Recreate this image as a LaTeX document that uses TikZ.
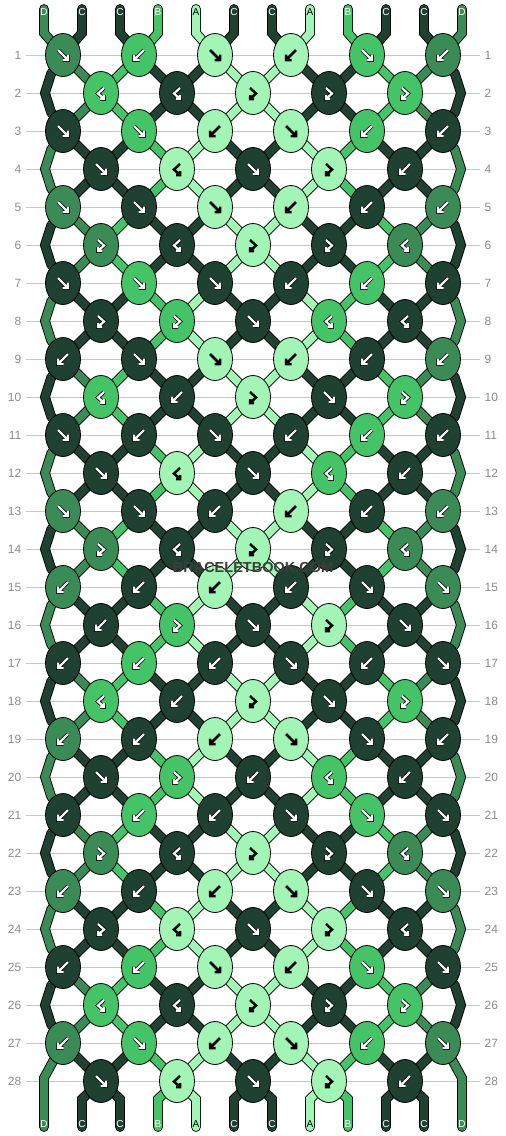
\documentclass[tikz,border=0pt]{standalone}
\usepackage{fontspec}
\setmainfont{Liberation Sans}
\usetikzlibrary{shapes.geometric}
\definecolor{cA}{HTML}{A2F5B5}
\definecolor{cB}{HTML}{45C467}
\definecolor{cC}{HTML}{1E4131}
\definecolor{cD}{HTML}{3A8B56}
\colorlet{lA}{black}
\colorlet{lB}{white}
\colorlet{lC}{white}
\colorlet{lD}{white}
\definecolor{rowline}{HTML}{C8C8C8}
\definecolor{rowtxt}{HTML}{8C8C8C}
\pgfdeclarelayer{back}
\pgfdeclarelayer{bg}
\pgfsetlayers{back,bg,main}
\tikzset{
  knot/.style={ellipse, draw=black, line width=0.8pt, minimum width=35pt, minimum height=43pt, inner sep=0pt},
  str/.style={draw=black, line width=0.9pt, double=#1, double distance=8pt, line join=miter},
  glb/.style={draw=black, line width=2.5pt, line join=miter, line cap=butt},
  glo/.style={draw=black, line width=3.8pt, line join=miter, line cap=square},
  glw/.style={draw=white, line width=2.2pt, line join=miter, line cap=butt},
  rowlbl/.style={text=rowtxt, font=\fontsize{12}{12}\selectfont, inner sep=0pt},
  strlbl/.style={font=\fontsize{10}{10}\selectfont, inner sep=0pt},
}
\newcommand\straightG[1]{\draw[#1] (-5,-5)--(5,5) (5,-0.5)--(5,5)--(-0.5,5);}
\newcommand\hookG[1]{\draw[#1] (3,-5)--(-3,0.5)--(3,6) (3,2)--(3,6)--(-1,6);}
\newcommand\gshape[2]{\if#1F\straightG{#2}\fi\if#1B\straightG{#2}\fi\if#1X\hookG{#2}\fi\if#1Y\hookG{#2}\fi}
\newcommand\glyph[4]{%
  \def\gs{1}%
  \if#3B\def\gs{-1}\fi
  \if#3Y\def\gs{-1}\fi
  \begin{scope}[shift={(#1,#2)}, xscale=\gs]
    \if#4A
      \gshape{#3}{glb}%
    \else
      \gshape{#3}{glo}\gshape{#3}{glw}%
    \fi
  \end{scope}}
\newcommand\krow[2]{%
  \foreach \ty/\kc [count=\kn] in {#2} {
    \pgfmathsetmacro\kx{63+38*(1-mod(#1,2))+76*(\kn-1)}
    \pgfmathsetmacro\ky{55+38*(#1-1)}
    \node[knot, fill=c\kc] (k-#1-\kn) at (\kx,\ky) {};
    \glyph{\kx}{\ky}{\ty}{\kc}
  }}
\newcommand\oddconn[2]{%
  \foreach \kn/\cl/\cr in {#2} {
    \pgfmathtruncatemacro\rn{#1+1}
    \pgfmathtruncatemacro\km{\kn-1}
    \ifnum\kn>1 \draw[str=c\cl] (k-#1-\kn.center) -- (k-\rn-\km.center);\fi
    \ifnum\kn<6 \draw[str=c\cr] (k-#1-\kn.center) -- (k-\rn-\kn.center);\fi
  }}
\newcommand\evenconn[2]{%
  \foreach \kn/\cl/\cr in {#2} {
    \pgfmathtruncatemacro\rn{#1+1}
    \pgfmathtruncatemacro\kp{\kn+1}
    \draw[str=c\cl] (k-#1-\kn.center) -- (k-\rn-\kn.center);
    \draw[str=c\cr] (k-#1-\kn.center) -- (k-\rn-\kp.center);
  }}
\begin{document}
\begin{tikzpicture}[x=1pt,y=-1pt]
\useasboundingbox (0,0) rectangle (506,1136);
\begin{pgfonlayer}{back}
  \fill[white] (0,0) rectangle (506,1136);
  \foreach \r in {1,...,28} {
    \pgfmathsetmacro\yy{55+38*(\r-1)}
    \draw[rowline, line width=1pt] (26,\yy) -- (480,\yy);
    \node[rowlbl, anchor=east] (rl-\r) at (21.5,\yy) {\r};
    \node[rowlbl, anchor=west] (rr-\r) at (484.5,\yy) {\r};
  }
\end{pgfonlayer}
% knots
\krow{1}{F/D,B/B,F/A,B/A,F/B,B/D}
\krow{2}{X/B,X/C,Y/A,Y/C,Y/B}
\krow{3}{F/C,F/B,B/A,F/A,B/B,B/C}
\krow{4}{F/C,X/A,F/C,Y/A,B/C}
\krow{5}{F/D,F/C,F/A,B/A,B/C,B/D}
\krow{6}{Y/D,X/C,Y/A,Y/C,X/D}
\krow{7}{F/C,F/B,F/C,B/C,B/B,B/C}
\krow{8}{Y/C,Y/B,F/C,X/B,X/C}
\krow{9}{B/C,F/C,F/A,B/A,B/C,B/D}
\krow{10}{X/B,B/C,Y/A,F/C,Y/B}
\krow{11}{F/C,B/C,F/C,B/C,B/B,B/C}
\krow{12}{F/C,X/A,F/C,X/B,B/C}
\krow{13}{F/D,F/C,B/C,B/A,B/C,B/D}
\krow{14}{Y/D,X/C,Y/A,Y/C,X/D}
\krow{15}{B/D,B/C,B/A,B/C,F/C,F/D}
\krow{16}{B/C,Y/B,F/C,Y/A,F/C}
\krow{17}{B/C,B/B,B/C,F/C,B/C,F/C}
\krow{18}{X/B,B/C,Y/A,F/C,Y/B}
\krow{19}{B/D,B/C,B/A,F/A,F/C,B/C}
\krow{20}{F/C,Y/B,B/C,X/B,B/C}
\krow{21}{B/C,B/B,B/C,F/C,F/B,F/C}
\krow{22}{Y/D,X/C,Y/A,Y/C,X/D}
\krow{23}{B/D,B/C,B/A,F/A,F/C,F/D}
\krow{24}{Y/C,X/A,F/C,Y/A,X/C}
\krow{25}{B/C,B/B,F/A,B/A,F/B,F/C}
\krow{26}{X/B,X/C,Y/A,Y/C,Y/B}
\krow{27}{B/D,F/B,B/A,F/A,B/B,F/D}
\krow{28}{F/C,X/A,F/C,Y/A,B/C}
% strings
\begin{pgfonlayer}{bg}
  \foreach \r in {1,5,...,25} {\oddconn{\r}{1/C/D,2/B/C,3/C/A,4/A/C,5/C/B,6/D/C}}
  \foreach \r in {3,7,...,27} {\oddconn{\r}{1/D/C,2/C/B,3/A/C,4/C/A,5/B/C,6/C/D}}
  \foreach \r in {2,6,...,26} {\evenconn{\r}{1/D/B,2/C/C,3/A/A,4/C/C,5/B/D}}
  \foreach \r in {4,8,...,24} {\evenconn{\r}{1/C/C,2/B/A,3/C/C,4/A/B,5/C/C}}
  \foreach \r/\ec in {2/C,4/D,6/C,8/D,10/C,12/D,14/C,16/D,18/C,20/D,22/C,24/D,26/C} {
    \pgfmathtruncatemacro\ra{\r-1}
    \pgfmathtruncatemacro\rb{\r+1}
    \pgfmathsetmacro\yy{55+38*(\r-1)}
    \draw[str=c\ec] (k-\ra-1.center) -- (51,\yy-19) -- (45,\yy) -- (51,\yy+19) -- (k-\rb-1.center);
    \draw[str=c\ec] (k-\ra-6.center) -- (455,\yy-19) -- (461,\yy) -- (455,\yy+19) -- (k-\rb-6.center);
  }
  \foreach \i/\sc in {1/D,2/C,3/C,4/B,5/A,6/C,7/C,8/A,9/B,10/C,11/C,12/D} {
    \pgfmathsetmacro\sx{44+38*(\i-1)}
    \pgfmathtruncatemacro\kk{(\i+1)/2}
    \coordinate (top-\i) at (\sx,9);
    \draw[str=c\sc, line cap=round] (top-\i) -- (\sx,33) -- (k-1-\kk.center);
    \coordinate (bot-\i) at (\sx,1127);
    \ifnum\i=1
      \draw[str=c\sc, line cap=round] (k-27-1.center) -- (\sx,1078) -- (bot-\i);
    \else\ifnum\i=12
      \draw[str=c\sc, line cap=round] (k-27-6.center) -- (\sx,1078) -- (bot-\i);
    \else
      \pgfmathtruncatemacro\kb{\i/2}
      \draw[str=c\sc, line cap=round] (k-28-\kb.center) -- (\sx,1099) -- (bot-\i);
    \fi\fi
  }
\end{pgfonlayer}
% string labels
\foreach \i/\sc in {1/D,2/C,3/C,4/B,5/A,6/C,7/C,8/A,9/B,10/C,11/C,12/D} {
  \pgfmathsetmacro\sx{44+38*(\i-1)}
  \node[strlbl, text=l\sc] (tl-\i) at (\sx,12.5) {\sc};
  \node[strlbl, text=l\sc] (bl-\i) at (\sx,1124) {\sc};
}
\node[font=\bfseries\fontsize{14.5}{14.5}\selectfont, text=black!76, inner sep=0pt] (wm) at (253,567.5) {BRACELETBOOK.COM};
\end{tikzpicture}
\end{document}
